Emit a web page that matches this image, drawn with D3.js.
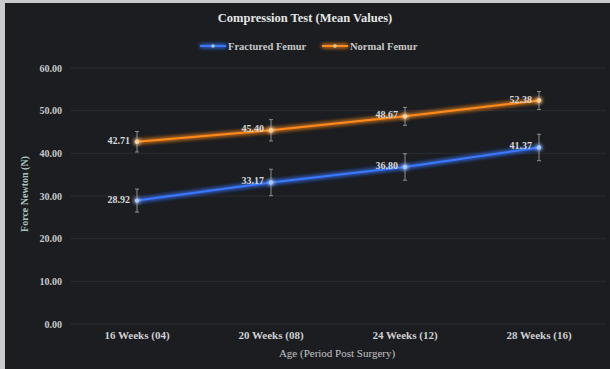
<!DOCTYPE html>
<html><head><meta charset="utf-8">
<script src="https://cdn.jsdelivr.net/npm/d3@7/dist/d3.min.js"></script>
<style>
html,body{margin:0;padding:0;background:#1b1d21;}
svg{display:block;}
</style></head>
<body><svg id="c" width="610" height="369"></svg>
<script>
const categories = ["16 Weeks (04)", "20 Weeks (08)", "24 Weeks (12)", "28 Weeks (16)"];
const fractured = [28.92, 33.17, 36.80, 41.37];
const fracturedErr = [2.7, 3.1, 3.1, 3.1];
const normal = [42.71, 45.40, 48.67, 52.38];
const normalErr = [2.4, 2.5, 2.1, 2.1];
const yTicks = [0, 10, 20, 30, 40, 50, 60];
const seriesNames = ["Fractured Femur", "Normal Femur"];

const W = 610, H = 369;
const svg = d3.select("#c");
const font = "'Liberation Serif', 'DejaVu Serif', serif";

svg.append("rect").attr("width", W).attr("height", H).attr("fill", "#1b1d21");
svg.append("rect").attr("x", 0).attr("y", 0).attr("width", 5).attr("height", H).attr("fill", "#c9cccc");
svg.append("rect").attr("x", 0).attr("y", 0).attr("width", W).attr("height", 3).attr("fill", "#c9cccc");

const defs = svg.append("defs");
const f = defs.append("filter").attr("id", "glow").attr("filterUnits", "userSpaceOnUse")
  .attr("x", 0).attr("y", 0).attr("width", W).attr("height", H);
f.append("feGaussianBlur").attr("stdDeviation", 2.2).attr("result", "b");
const m = f.append("feMerge");
m.append("feMergeNode").attr("in", "b");
m.append("feMergeNode").attr("in", "b");
m.append("feMergeNode").attr("in", "SourceGraphic");

const x = d3.scaleBand().domain(categories).range([70, 606]);
const y = d3.scaleLinear().domain([0, 60]).range([324, 68]);
const cx = d => x(d) + x.bandwidth() / 2;

svg.append("g").selectAll("line").data(yTicks).join("line")
  .attr("x1", 70).attr("x2", 606)
  .attr("y1", d => y(d)).attr("y2", d => y(d))
  .attr("stroke", "#2a2d33").attr("stroke-width", 1);

const yAxis = d3.axisLeft(y).tickValues(yTicks).tickFormat(d3.format(".2f")).tickSize(0).tickPadding(8);
const gy = svg.append("g").attr("transform", "translate(70,0)").call(yAxis);
gy.select(".domain").remove();
gy.selectAll("text").attr("fill", "#c8c8c8").attr("font-family", font).attr("font-size", 10).attr("font-weight", "bold");

const xAxis = d3.axisBottom(x).tickSize(0).tickPadding(7);
const gx = svg.append("g").attr("transform", "translate(0,324)").call(xAxis);
gx.select(".domain").remove();
gx.selectAll("text").attr("fill", "#d0d0d0").attr("font-family", font).attr("font-size", 11).attr("font-weight", "bold");

svg.append("text").attr("x", 305).attr("y", 22).attr("text-anchor", "middle")
  .attr("fill", "#e6e6e6").attr("font-family", font).attr("font-weight", "bold").attr("font-size", 12.5)
  .text("Compression Test (Mean Values)");
svg.append("text").attr("x", 337).attr("y", 357).attr("text-anchor", "middle")
  .attr("fill", "#c4c4c4").attr("font-family", font).attr("font-size", 11)
  .text("Age (Period Post Surgery)");
svg.append("text").attr("transform", "translate(28,194) rotate(-90)").attr("text-anchor", "middle")
  .attr("fill", "#a8c4ba").attr("font-family", font).attr("font-size", 10).attr("font-weight", "bold")
  .text("Force Newton (N)");

const series = [
  {name: seriesNames[0], vals: fractured, err: fracturedErr, color: "#3a78ff", dot: "#a9c8ff"},
  {name: seriesNames[1], vals: normal, err: normalErr, color: "#ff8a1c", dot: "#ffd2a0"}
];

const line = d3.line().x(d => cx(d.c)).y(d => y(d.v));

series.forEach(s => {
  const pts = categories.map((c, i) => ({c, v: s.vals[i], e: s.err[i]}));
  const g = svg.append("g");
  const eb = g.append("g").selectAll("g").data(pts).join("g");
  eb.append("line").attr("x1", d => cx(d.c)).attr("x2", d => cx(d.c))
    .attr("y1", d => y(d.v - d.e)).attr("y2", d => y(d.v + d.e))
    .attr("stroke", "#8e8e8e").attr("stroke-width", 1);
  [1, -1].forEach(sg => {
    eb.append("line").attr("x1", d => cx(d.c) - 2).attr("x2", d => cx(d.c) + 2)
      .attr("y1", d => y(d.v + sg * d.e)).attr("y2", d => y(d.v + sg * d.e))
      .attr("stroke", "#8e8e8e").attr("stroke-width", 1);
  });
  g.append("path").datum(pts).attr("d", line).attr("fill", "none")
    .attr("stroke", s.color).attr("stroke-width", 2).attr("filter", "url(#glow)");
  g.selectAll("circle").data(pts).join("circle")
    .attr("cx", d => cx(d.c)).attr("cy", d => y(d.v)).attr("r", 2.2)
    .attr("fill", s.dot).attr("filter", "url(#glow)");
  g.selectAll("text.lbl").data(pts).join("text").attr("class", "lbl")
    .attr("x", d => cx(d.c) - 7).attr("y", d => y(d.v) + 2)
    .attr("text-anchor", "end").attr("fill", "#d8d8d8")
    .attr("font-family", font).attr("font-size", 10).attr("font-weight", "bold")
    .text(d => d.v.toFixed(2));
});

const leg = [
  {name: seriesNames[0], color: "#3a78ff", dot: "#a9c8ff", x: 200},
  {name: seriesNames[1], color: "#ff8a1c", dot: "#ffd2a0", x: 322}
];
leg.forEach(l => {
  const g = svg.append("g");
  g.append("line").attr("x1", l.x).attr("x2", l.x + 26).attr("y1", 46).attr("y2", 46)
    .attr("stroke", l.color).attr("stroke-width", 2).attr("filter", "url(#glow)");
  g.append("circle").attr("cx", l.x + 13).attr("cy", 46).attr("r", 1.8).attr("fill", l.dot);
  g.append("text").attr("x", l.x + 28).attr("y", 49.5).attr("fill", "#c8c8c8")
    .attr("font-family", font).attr("font-size", 10.5).attr("font-weight", "bold").text(l.name);
});
</script></body></html>
